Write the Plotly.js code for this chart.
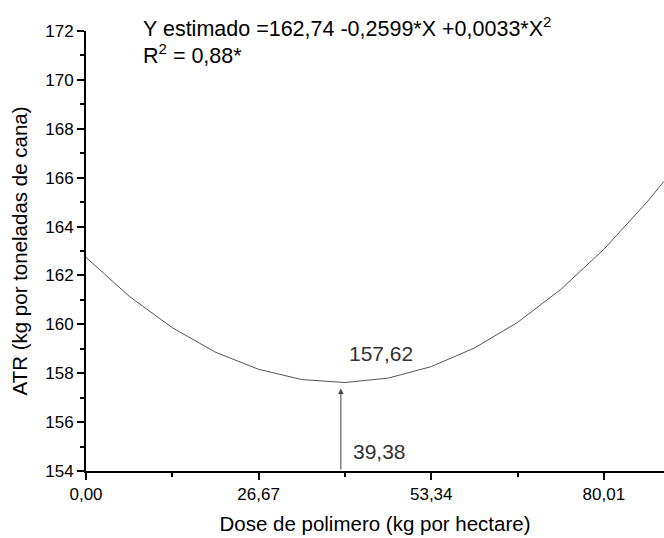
<!DOCTYPE html>
<html>
<head>
<meta charset="utf-8">
<script src="https://cdn.plot.ly/plotly-3.0.1.min.js"></script>
<style>html,body{margin:0;padding:0;background:#fff;}#chart{width:664px;height:538px;}</style>
</head>
<body>
<div id="chart"></div>
<script>
// Values
const doseX = [0, 6.67, 13.34, 20.0, 26.67, 33.34, 40.0, 46.69, 53.34, 60.0, 66.68, 73.36, 80.01, 86.7, 89.3];
const atrY  = [162.74, 161.15, 159.86, 158.86, 158.16, 157.74, 157.62, 157.80, 158.27, 159.03, 160.08, 161.43, 163.07, 165.01, 165.85];

const xTickVals = [0, 26.67, 53.34, 80.01];
const xTickText = ["0,00", "26,67", "53,34", "80,01"];
const yTickVals = [154, 156, 158, 160, 162, 164, 166, 168, 170, 172];

const minDose = 39.38;
const minATR = 157.62;
const minDoseLabel = "39,38";
const minATRLabel = "157,62";
const eqText = "Y estimado =162,74 -0,2599*X +0,0033*X<sup>2</sup>";
const r2Text = "R<sup>2</sup> = 0,88*";

const FONT = "Liberation Sans, Arial, sans-serif";

const trace = {
  x: doseX, y: atrY, type: "scatter", mode: "lines",
  line: {color: "#555", width: 1}, hoverinfo: "skip", showlegend: false
};

const axisCommon = {
  showline: true, linecolor: "#000", linewidth: 2, mirror: false,
  ticks: "outside", ticklen: 7, tickwidth: 2, tickcolor: "#000",
  showgrid: false, zeroline: false,
  tickfont: {family: FONT, size: 17, color: "#000"}
};

const layout = {
  width: 664, height: 538,
  margin: {l: 86, r: 0, t: 31, b: 67},
  paper_bgcolor: "#fff", plot_bgcolor: "#fff",
  xaxis: Object.assign({}, axisCommon, {
    range: [0, 89.3], tickmode: "array", tickvals: xTickVals, ticktext: xTickText,
    minor: {tickmode: "linear", tick0: 0, dtick: 13.335, ticks: "outside", ticklen: 4, tickwidth: 2, tickcolor: "#000"},
    title: {text: "Dose de polimero (kg por hectare)", font: {family: FONT, size: 20.5, color: "#000"}, standoff: 13}
  }),
  yaxis: Object.assign({}, axisCommon, {
    range: [154, 172], tickmode: "array", tickvals: yTickVals,
    minor: {tickmode: "linear", tick0: 154, dtick: 1, ticks: "outside", ticklen: 4, tickwidth: 2, tickcolor: "#000"},
    title: {text: "ATR (kg por toneladas de cana)", font: {family: FONT, size: 20.5, color: "#000"}, standoff: 12}
  }),
  annotations: [
    {xref: "paper", yref: "paper", x: (141 - 86) / 578, y: 1 + (31 - 27) / 440, xanchor: "left", yanchor: "middle",
     text: eqText, showarrow: false, font: {family: FONT, size: 21.5, color: "#000"}},
    {xref: "paper", yref: "paper", x: (141 - 86) / 578, y: 1 - (54 - 31) / 440, xanchor: "left", yanchor: "middle",
     text: r2Text, showarrow: false, font: {family: FONT, size: 21.5, color: "#000"}},
    {x: minDose, y: minATR, xref: "x", yref: "y", ax: minDose, ay: 154, axref: "x", ayref: "y",
     showarrow: true, arrowhead: 2, arrowsize: 1.1, arrowwidth: 1, arrowcolor: "#444", standoff: 6, text: ""},
    {x: minDose + 1, y: minATR + 1.2, xref: "x", yref: "y", xanchor: "left", yanchor: "middle",
     text: minATRLabel, showarrow: false, font: {family: FONT, size: 21, color: "#333"}},
    {x: minDose + 1.6, y: 154.8, xref: "x", yref: "y", xanchor: "left", yanchor: "middle",
     text: minDoseLabel, showarrow: false, font: {family: FONT, size: 21, color: "#333"}}
  ]
};

Plotly.newPlot("chart", [trace], layout, {staticPlot: true, displayModeBar: false});
</script>
</body>
</html>
